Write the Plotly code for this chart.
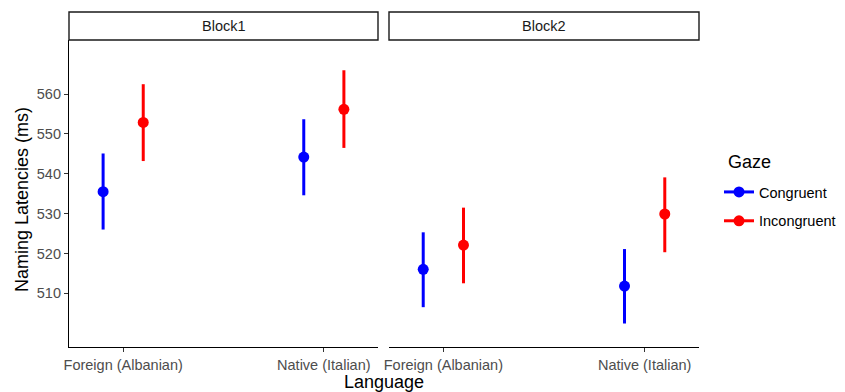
import plotly.graph_objects as go

# ---- data ----
languages = ["Foreign (Albanian)", "Native (Italian)"]
blocks = ["Block1", "Block2"]
gaze_levels = ["Congruent", "Incongruent"]

b1_congruent_mean = [535.5, 544.2]
b1_congruent_lo = [526.0, 534.6]
b1_congruent_hi = [545.1, 553.7]
b1_incongruent_mean = [552.9, 556.2]
b1_incongruent_lo = [543.2, 546.5]
b1_incongruent_hi = [562.5, 566.0]

b2_congruent_mean = [516.0, 511.8]
b2_congruent_lo = [506.5, 502.4]
b2_congruent_hi = [525.3, 521.1]
b2_incongruent_mean = [522.1, 529.9]
b2_incongruent_lo = [512.5, 520.3]
b2_incongruent_hi = [531.5, 539.1]

y_ticks = [510, 520, 530, 540, 550, 560]

# ---- styling ----
PAGE_W, PAGE_H = 845, 392
OFF = 8                                 # default page body margin
W, H = PAGE_W - OFF, PAGE_H - OFF
colors = {"Congruent": "#0000FF", "Incongruent": "#FF0000"}
dodge = {"Congruent": -0.1, "Incongruent": 0.1}
FONT = "Liberation Sans, Arial, sans-serif"
TICK_SIZE = 14.5
TITLE_SIZE = 18

# positions below are in page pixels
L, R, T, B = 69, 699, 40, 347          # plotting area
panel_x = [(69, 378), (389, 699)]
strip_top = 12
PW, PH = R - L, B - T

def px_x(v):
    return (v - L) / PW

def px_y(v):
    return (B - v) / PH

data = {
    ("Block1", "Congruent"): (b1_congruent_mean, b1_congruent_lo, b1_congruent_hi),
    ("Block1", "Incongruent"): (b1_incongruent_mean, b1_incongruent_lo, b1_incongruent_hi),
    ("Block2", "Congruent"): (b2_congruent_mean, b2_congruent_lo, b2_congruent_hi),
    ("Block2", "Incongruent"): (b2_incongruent_mean, b2_incongruent_lo, b2_incongruent_hi),
}

fig = go.Figure()

for bi, block in enumerate(blocks):
    xa = "x" if bi == 0 else "x2"
    ya = "y" if bi == 0 else "y2"
    for g in gaze_levels:
        mean, lo, hi = data[(block, g)]
        xs = [i + 1 + dodge[g] for i in range(len(languages))]
        fig.add_trace(go.Scatter(
            x=xs, y=mean, mode="markers",
            marker=dict(color=colors[g], size=11),
            error_y=dict(type="data", symmetric=False,
                         array=[h - m for h, m in zip(hi, mean)],
                         arrayminus=[m - l for m, l in zip(mean, lo)],
                         color=colors[g], thickness=3, width=0),
            xaxis=xa, yaxis=ya, showlegend=False, name=g,
        ))

for g in gaze_levels:
    fig.add_trace(go.Scatter(
        x=[None], y=[None], mode="lines+markers", name=g,
        line=dict(color=colors[g], width=3),
        marker=dict(color=colors[g], size=11),
        showlegend=True, legendgroup=g,
    ))

xaxis_common = dict(
    range=[0.73, 2.27], tickmode="array", tickvals=[1, 2], ticktext=languages,
    showline=True, linecolor="black", linewidth=1.2,
    ticks="outside", ticklen=4, tickwidth=1.2, tickcolor="#333333",
    tickfont=dict(size=TICK_SIZE, color="#4d4d4d", family=FONT),
    showgrid=False, zeroline=False, automargin=False,
)

fig.update_layout(
    width=W, height=H,
    margin=dict(l=L - OFF, r=PAGE_W - R, t=T - OFF, b=PAGE_H - B, autoexpand=False),
    paper_bgcolor="white", plot_bgcolor="white",
    font=dict(family=FONT, color="black"),
    xaxis=dict(domain=[px_x(panel_x[0][0]), px_x(panel_x[0][1])], anchor="y", **xaxis_common),
    xaxis2=dict(domain=[px_x(panel_x[1][0]), px_x(panel_x[1][1])], anchor="y2", **xaxis_common),
    yaxis=dict(
        domain=[0, 1], anchor="x",
        range=[496.5, 573.6], tickmode="array", tickvals=y_ticks,
        showline=True, linecolor="black", linewidth=1.2,
        ticks="outside", ticklen=4, tickwidth=1.2, tickcolor="#333333",
        tickfont=dict(size=TICK_SIZE, color="#4d4d4d", family=FONT),
        showgrid=False, zeroline=False, automargin=False,
    ),
    yaxis2=dict(
        domain=[0, 1], anchor="x2", matches="y",
        showline=False, showticklabels=False, ticks="",
        showgrid=False, zeroline=False, automargin=False,
    ),
    legend=dict(
        font=dict(size=TICK_SIZE, family=FONT, color="black"),
        x=px_x(719), y=px_y(176), xanchor="left", yanchor="top",
        bgcolor="rgba(0,0,0,0)", tracegroupgap=7, borderwidth=0,
    ),
    showlegend=True,
)

shapes = []
annotations = []
for bi, block in enumerate(blocks):
    x0, x1 = panel_x[bi]
    shapes.append(dict(
        type="rect", xref="paper", yref="paper",
        x0=px_x(x0), x1=px_x(x1), y0=px_y(T), y1=px_y(strip_top),
        line=dict(color="#1a1a1a", width=1.4), fillcolor="white",
    ))
    annotations.append(dict(
        text=block, xref="paper", yref="paper",
        x=px_x((x0 + x1) / 2), y=px_y((T + strip_top) / 2),
        xanchor="center", yanchor="middle", showarrow=False,
        font=dict(size=TICK_SIZE, color="#1a1a1a", family=FONT),
    ))

annotations.append(dict(
    text="Gaze", xref="paper", yref="paper",
    x=px_x(726), y=px_y(162), xanchor="left", yanchor="middle",
    showarrow=False, font=dict(size=TITLE_SIZE, color="black", family=FONT),
))
annotations.append(dict(
    text="Language", xref="paper", yref="paper",
    x=px_x(384), y=px_y(382), xanchor="center", yanchor="middle",
    showarrow=False, font=dict(size=TITLE_SIZE, color="black", family=FONT),
))
annotations.append(dict(
    text="Naming Latencies (ms)", xref="paper", yref="paper",
    x=px_x(22), y=px_y(200), xanchor="center", yanchor="middle",
    textangle=-90, showarrow=False,
    font=dict(size=TITLE_SIZE, color="black", family=FONT),
))

fig.update_layout(shapes=shapes, annotations=annotations)

fig.write_html("out.html")
